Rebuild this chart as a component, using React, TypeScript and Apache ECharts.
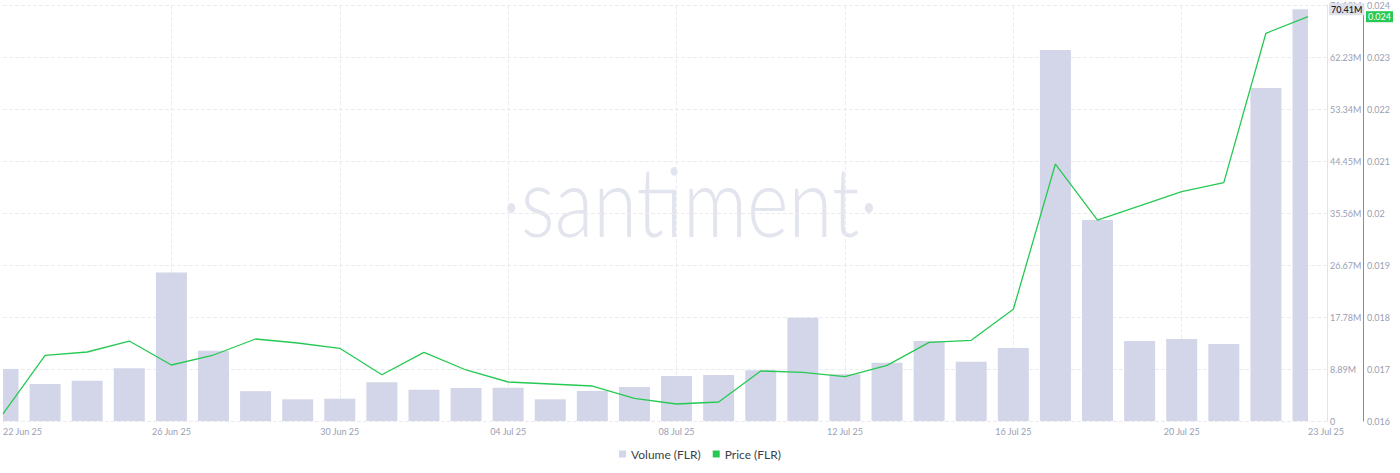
import React, { useEffect, useRef } from "react";
import * as echarts from "echarts";

const dates: string[] = [
  "22 Jun 25", "23 Jun 25", "24 Jun 25", "25 Jun 25", "26 Jun 25", "27 Jun 25", "28 Jun 25", "29 Jun 25",
  "30 Jun 25", "01 Jul 25", "02 Jul 25", "03 Jul 25", "04 Jul 25", "05 Jul 25", "06 Jul 25", "07 Jul 25",
  "08 Jul 25", "09 Jul 25", "10 Jul 25", "11 Jul 25", "12 Jul 25", "13 Jul 25", "14 Jul 25", "15 Jul 25",
  "16 Jul 25", "17 Jul 25", "18 Jul 25", "19 Jul 25", "20 Jul 25", "21 Jul 25", "22 Jul 25", "23 Jul 25",
];

// Volume (FLR), in millions
const volumeM: number[] = [
  8.9, 6.33, 6.9, 9.0, 25.4, 12.0, 5.1, 3.71,
  3.81, 6.62, 5.35, 5.64, 5.69, 3.71, 5.13, 5.81,
  7.69, 7.86, 8.67, 17.66, 7.98, 9.97, 13.68, 10.14,
  12.48, 63.43, 34.36, 13.68, 14.02, 13.16, 56.93, 70.41,
];

// Price (FLR), USD
const price: number[] = [
  0.016135, 0.017263, 0.017327, 0.017538, 0.017077, 0.017269, 0.017577, 0.0175,
  0.017398, 0.01689, 0.017321, 0.016981, 0.01675, 0.016712, 0.016673, 0.016437,
  0.016327, 0.016365, 0.016962, 0.016937, 0.016852, 0.017071, 0.017513, 0.017552,
  0.018148, 0.020942, 0.019865, 0.020135, 0.020409, 0.020583, 0.023456, 0.023775,
];

const volumeMax = 71.12e6;
const volumeStep = 8.89e6;
const priceMin = 0.016;
const priceMax = 0.024;
const priceStep = 0.001;

const BAR = "#d3d6e8";
const GREEN = "#26c953";
const LABEL = "#9aa0b3";
const GRID = "#ececf0";
const FONT = "Lato, 'Open Sans', sans-serif";
const HIDDEN = "rgba(0,0,0,0)";

export default function App() {
  const ref = useRef<HTMLDivElement>(null);

  useEffect(() => {
    if (!ref.current) return;
    const chart = echarts.init(ref.current, undefined, { renderer: "svg" });
    const last = dates.length - 1;
    const volumes = volumeM.map((v) => v * 1e6);
    const lastVol = volumes[last];
    const lastPrice = price[last];

    chart.setOption({
      animation: false,
      textStyle: { fontFamily: FONT },
      grid: { left: 1, right: 92, top: 5, bottom: 52 },
      graphic: [
        {
          type: "text",
          x: 690,
          y: 200,
          scaleX: 0.83,
          silent: true,
          z: 0,
          style: {
            text: "·santiment·",
            fontSize: 96,
            fontWeight: 300,
            fontFamily: FONT,
            fill: "#e2e4ee",
            textAlign: "center",
            textVerticalAlign: "middle",
          },
        },
      ],
      legend: {
        bottom: 8,
        left: "center",
        itemWidth: 7,
        itemHeight: 7,
        itemGap: 12,
        textStyle: { fontSize: 12, color: "#3d3f48", fontFamily: FONT },
        data: [
          { name: "Volume (FLR)", icon: "rect", itemStyle: { color: BAR } },
          { name: "Price (FLR)", icon: "rect", itemStyle: { color: GREEN } },
        ],
      },
      xAxis: {
        type: "category",
        boundaryGap: false,
        data: dates,
        axisLine: { show: false },
        axisTick: { show: false },
        axisLabel: {
          interval: (i: number) => i % 4 === 0 || i === last,
          fontSize: 9,
          color: LABEL,
          margin: 6,
          alignMinLabel: "left",
          alignMaxLabel: "left",
          hideOverlap: false,
        },
        splitLine: {
          show: true,
          interval: (i: number) => i % 4 === 0 && i > 0 && i < last,
          lineStyle: { color: GRID, type: "dashed" },
        },
      },
      yAxis: [
        {
          type: "value",
          position: "right",
          offset: 19,
          min: 0,
          max: volumeMax,
          interval: volumeStep,
          axisLine: { show: true, lineStyle: { color: "#e2e3ea" } },
          axisTick: { show: true, inside: true, length: 19, lineStyle: { color: GRID, type: "dashed" } },
          axisLabel: {
            fontSize: 9,
            color: LABEL,
            margin: 3,
            formatter: (v: number) => (v === 0 ? "0" : (v / 1e6).toFixed(2) + "M"),
          },
          splitLine: { show: true, lineStyle: { color: GRID, type: "dashed" } },
        },
        {
          type: "value",
          position: "right",
          offset: 55,
          min: priceMin,
          max: priceMax,
          interval: priceStep,
          axisLine: { show: true, lineStyle: { color: GREEN } },
          axisTick: { show: false },
          axisLabel: {
            fontSize: 9,
            color: LABEL,
            margin: 4,
            formatter: (v: number) => String(+v.toFixed(3)),
          },
          splitLine: { show: false },
        },
      ],
      series: [
        {
          name: "Volume (FLR)",
          type: "custom",
          yAxisIndex: 0,
          data: volumes.map((v, i) => [i, v]),
          encode: { x: 0, y: 1 },
          itemStyle: { color: BAR },
          z: 2,
          renderItem: (params: any, api: any) => {
            const top = api.coord([api.value(0), api.value(1)]);
            const base = api.coord([api.value(0), 0]);
            const w = 31;
            const cs = params.coordSys;
            const shape = echarts.graphic.clipRectByRect(
              { x: top[0] - w / 2, y: top[1], width: w, height: base[1] - top[1] },
              { x: cs.x, y: cs.y, width: cs.width, height: cs.height }
            );
            if (!shape) return null;
            return { type: "rect", shape, style: { fill: BAR } };
          },
          markLine: {
            silent: true,
            symbol: ["none", "none"],
            lineStyle: { color: HIDDEN, width: 1 },
            label: {
              show: true,
              position: "end",
              distance: 21,
              formatter: (lastVol / 1e6).toFixed(2) + "M",
              backgroundColor: "#dfe1ea",
              color: "#1f2330",
              fontSize: 9,
              fontWeight: 600,
              padding: [2, 2, 1, 2],
              fontFamily: FONT,
            },
            data: [{ yAxis: lastVol }],
          },
        },
        {
          name: "Price (FLR)",
          type: "line",
          yAxisIndex: 1,
          data: price,
          symbol: "none",
          lineStyle: { color: GREEN, width: 1.3 },
          itemStyle: { color: GREEN },
          z: 3,
          endLabel: {
            show: true,
            distance: 58,
            formatter: () => String(+lastPrice.toFixed(3)),
            backgroundColor: GREEN,
            color: "#ffffff",
            fontSize: 9,
            padding: [1, 2, 1, 2],
            fontFamily: FONT,
          },
        },
      ],
    });

    return () => chart.dispose();
  }, []);

  return (
    <div
      ref={ref}
      style={{ position: "absolute", left: 0, top: 0, width: 1400, height: 473 }}
    />
  );
}
